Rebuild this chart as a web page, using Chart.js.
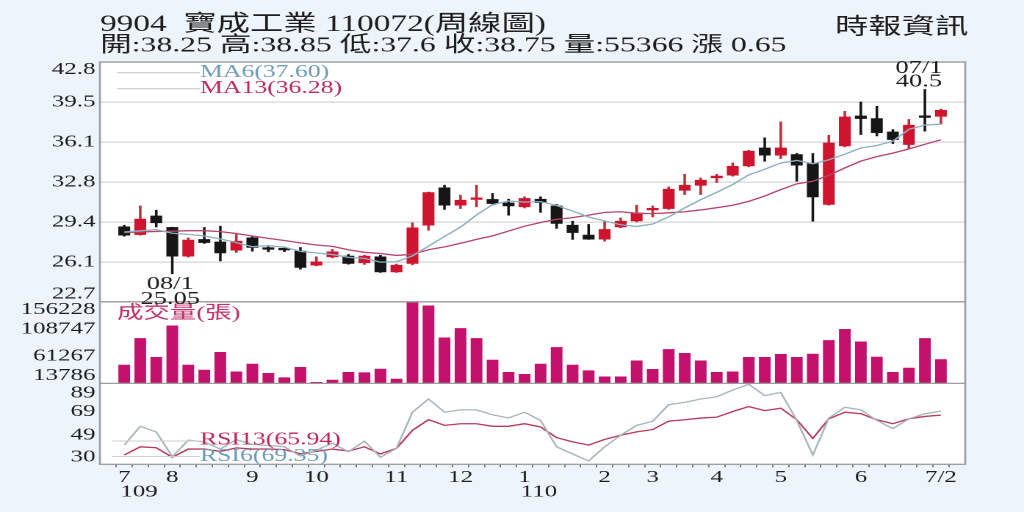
<!DOCTYPE html>
<html><head><meta charset="utf-8">
<script src="https://cdn.jsdelivr.net/npm/chart.js@4.4.0/dist/chart.umd.min.js"></script>
<style>
html,body{margin:0;padding:0;background:#eef4fb;overflow:hidden;}
#wrap{width:1024px;height:512px;position:relative;overflow:hidden;background:#eef4fb;}
#c{position:absolute;left:0;top:0;width:697px;height:512px;transform:scaleX(1.46915);transform-origin:0 0;}
</style></head><body>
<div id="wrap"><canvas id="c" width="697" height="512"></canvas></div>
<script>
// ---- data (weekly, 2020/07 - 2021/07/02) ----
const open  = [28.98,28.34,29.90,28.93,26.53,27.93,27.72,27.03,28.06,27.15,27.10,26.95,25.77,26.47,26.53,25.97,26.47,25.21,25.92,29.12,32.25,30.80,31.28,31.28,30.99,30.66,31.30,30.74,29.12,28.29,27.95,28.98,29.48,30.40,30.52,32.05,32.47,33.10,33.31,34.09,35.60,34.99,35.04,34.29,30.86,35.77,38.28,38.06,36.94,35.88,38.20,38.25];
const high  = [29.12,30.74,30.38,28.95,28.06,28.93,29.04,28.34,28.14,27.31,27.30,27.26,26.47,27.09,26.67,26.61,26.61,25.86,29.32,31.90,32.47,31.64,32.47,31.78,31.30,31.50,31.50,30.86,29.46,29.18,29.40,29.73,30.80,30.74,32.33,33.39,33.08,33.39,34.34,35.40,36.44,37.77,35.13,35.13,36.66,38.67,39.45,39.09,37.14,37.98,40.50,38.85];
const low   = [28.20,28.29,28.98,25.05,26.44,27.59,26.13,26.84,26.95,26.89,26.90,25.44,25.71,26.38,25.86,25.83,25.16,25.16,25.80,28.70,30.44,30.52,30.66,30.80,29.96,30.57,30.19,28.85,27.93,27.93,27.78,28.90,29.40,29.82,30.44,31.69,31.69,32.70,33.23,34.01,34.48,34.71,32.81,29.46,30.80,35.68,36.72,36.60,35.97,35.55,37.00,37.60];
const close = [28.29,29.63,29.32,26.53,27.87,27.67,26.80,27.78,27.26,27.10,27.05,25.58,26.05,26.89,25.92,26.53,25.21,25.77,28.90,31.86,30.80,31.22,31.32,30.94,30.74,31.36,31.02,29.27,28.51,27.95,28.76,29.46,30.15,30.46,32.14,32.47,32.89,33.17,34.06,35.32,34.99,35.60,34.15,31.49,36.02,38.19,38.06,36.88,36.30,37.50,38.15,38.75];
const volume = [45700,92300,59200,114300,45700,37000,67900,34000,47500,31200,23600,41700,15500,19500,33000,32300,38700,21300,156228,149200,93400,109800,92300,54500,33000,29500,47500,76600,45700,35800,25300,25300,53200,38200,73100,66200,53200,33000,34000,59200,59200,64400,59200,65000,88800,108100,86400,59700,33000,40500,92300,55366];
const ma6  = [28.55,28.65,28.75,28.45,28.35,28.22,27.97,27.66,27.32,27.41,27.28,26.93,26.80,26.66,26.43,26.34,26.03,26.06,26.54,27.37,28.18,28.96,29.98,30.84,31.15,31.06,31.10,30.78,30.31,29.81,29.48,29.16,29.02,29.22,29.82,30.57,31.26,31.88,32.53,33.34,33.82,34.34,34.55,34.27,34.60,35.07,35.59,35.80,36.16,37.16,37.51,37.60];
const ma13 = [28.50,28.55,28.60,28.62,28.66,28.66,28.58,28.42,28.22,28.02,27.84,27.64,27.46,27.35,27.06,26.85,26.75,26.59,26.68,27.07,27.30,27.61,27.93,28.23,28.63,29.04,29.35,29.61,29.76,29.97,30.20,30.25,30.12,30.09,30.16,30.25,30.40,30.59,30.79,31.12,31.56,32.11,32.59,32.80,33.30,33.92,34.50,34.87,35.16,35.52,35.90,36.28];
const rsi6  = [40.4,56.4,51.6,30.5,44.6,43.1,37.0,45.0,41.0,40.0,39.0,31.0,36.0,42.0,34.7,43.7,30.0,37.6,68.4,79.7,68.4,70.4,70.4,66.2,63.5,68.4,61.4,38.9,32.8,26.9,38.9,48.8,57.2,60.6,74.9,76.8,79.7,81.6,87.3,92.3,82.5,85.3,61.4,31.9,63.4,72.6,70.4,61.4,54.4,62.8,67.1,69.35];
const rsi13 = [31.9,38.9,38.1,30.0,37.0,37.0,35.0,38.0,37.0,37.0,36.5,33.0,35.0,37.0,35.3,38.9,32.8,37.6,53.0,62.0,57.2,58.6,58.6,56.4,56.4,58.6,55.8,46.8,43.1,40.4,45.2,48.8,51.6,53.6,60.8,62.0,63.4,64.2,69.0,73.2,69.8,71.8,62.0,46.0,62.8,68.4,67.1,62.0,58.6,62.8,64.8,65.94];

const monthTickIndex = [0,3,8,12,17,21,25,30,33,37,41,46,51];
const monthTickText  = ['7','8','9','10','11','12','1','2','3','4','5','6','7/2'];
const yearTickIndex  = [0,25];
const yearTickText   = ['109','110'];
const priceTicks      = [22.7,26.05,29.4,32.75,36.1,39.45,42.8];
const priceTickLabels = ['22.7','26.1','29.4','32.8','36.1','39.5','42.8'];
const volTicks  = [13786,61267,108747,156228];
const rsiTicks  = [30,49,69,89];
const lowMark  = {index:3,  date:'08/1', value:25.05};
const highMark = {index:50, date:'07/1', value:40.5};
const titleText  = '9904  寶成工業 110072(周線圖)';
const quoteText  = '開:38.25 高:38.85 低:37.6 收:38.75 量:55366 漲 0.65';
const sourceText = '時報資訊';
const volTitle   = '成交量(張)';

// ---- rendering ----
const SX = 1024/697;
const px = v => v / SX;
const FONT = "'Liberation Serif','Noto Sans CJK TC',serif";
const UP = '#d0132e', DOWN = '#161616';
const idx = close.map((_, i) => i);
const candleColor = idx.map(i => close[i] >= open[i] ? UP : DOWN);
const wickColor = idx.map(i => close[i] >= open[i] ? '#b8303a' : DOWN);

function edgeLabel(text, pos){ // pos: 'top' shifts down, 'bottom' shifts up
  if (pos === 'top') return ['', text];
  if (pos === 'bottom') return [text, ''];
  return text;
}

const deco = {
  id:'deco',
  beforeDraw(chart){
    const {ctx, chartArea:a} = chart;
    ctx.save();
    ctx.fillStyle = '#eef4fb';
    ctx.fillRect(0,0,chart.width,chart.height);
    ctx.fillStyle = '#ffffff';
    ctx.fillRect(a.left,a.top,a.right-a.left,a.bottom-a.top);
    ctx.restore();
  },
  afterDraw(chart){
    const {ctx, chartArea:a, scales} = chart;
    ctx.save();
    ctx.strokeStyle = '#9c9c9c'; ctx.lineWidth = 1.3;
    ctx.strokeRect(a.left, a.top, a.right-a.left, a.bottom-a.top);
    [scales.yPrice.bottom, scales.yVol.bottom].forEach(y=>{
      ctx.beginPath(); ctx.moveTo(a.left,y); ctx.lineTo(a.right,y); ctx.stroke();
    });
    // header
    ctx.fillStyle = '#1e1e1e'; ctx.textBaseline = 'middle'; ctx.textAlign = 'left';
    ctx.font = `22.7px ${FONT}`;
    ctx.fillText(titleText, px(100), 25);
    ctx.fillText(sourceText, px(835), 28);
    ctx.font = `21.6px ${FONT}`;
    ctx.fillText(quoteText, px(100), 46);
    // MA legend
    ctx.lineWidth = 1; ctx.strokeStyle = '#c4c4c4';
    [72.7, 88.7].forEach(y=>{ctx.beginPath();ctx.moveTo(px(117),y);ctx.lineTo(px(200),y);ctx.stroke();});
    ctx.font = `17.5px ${FONT}`;
    ctx.fillStyle = '#6f9cb6';
    ctx.fillText(`MA6(${ma6[ma6.length-1].toFixed(2)})`, px(200), 72.5);
    ctx.fillStyle = '#c0285c';
    ctx.fillText(`MA13(${ma13[ma13.length-1].toFixed(2)})`, px(200), 88.5);
    // volume title
    ctx.font = `18px ${FONT}`;
    ctx.fillStyle = '#c2306c';
    ctx.fillText(volTitle, px(117), 314);
    // RSI legend
    ctx.strokeStyle = '#d0d0d0';
    [441, 456.5].forEach(y=>{ctx.beginPath();ctx.moveTo(px(112),y);ctx.lineTo(px(200),y);ctx.stroke();});
    ctx.font = `17.5px ${FONT}`;
    ctx.fillStyle = '#c0285c';
    ctx.fillText(`RSI13(${rsi13[rsi13.length-1].toFixed(2)})`, px(200), 440);
    ctx.fillStyle = '#6f9cb6';
    ctx.fillText(`RSI6(${rsi6[rsi6.length-1].toFixed(2)})`, px(200), 456.5);
    // low / high marks
    const xs = scales.x, yp = scales.yPrice;
    ctx.fillStyle = '#1e1e1e'; ctx.textAlign = 'center';
    ctx.font = `18px ${FONT}`;
    const lx = xs.getPixelForValue(lowMark.index) - px(2), ly = yp.getPixelForValue(lowMark.value);
    ctx.fillText(lowMark.date, lx, ly + 10.5);
    ctx.fillText(lowMark.value.toFixed(2), lx, ly + 25.5);
    const hx = xs.getPixelForValue(highMark.index) - px(6), hy = yp.getPixelForValue(highMark.value);
    ctx.fillText(highMark.date, hx, hy - 21);
    ctx.fillText(String(highMark.value), hx, hy - 7.5);
    // year labels under month ticks
    ctx.textAlign = 'left'; ctx.font = `17px ${FONT}`;
    yearTickIndex.forEach((v,k)=>{
      ctx.fillText(yearTickText[k], xs.getPixelForValue(v) - px(4), 492);
    });
    ctx.restore();
  }
};

const tickFont = {family: FONT, size: 17, lineHeight: 0.9};
const rsiFont = {family: FONT, size: 17, lineHeight: 0.6};
new Chart(document.getElementById('c'), {
  type: 'bar',
  data: {
    datasets: [
      {type:'line', label:'MA6',  data: idx.map(i=>({x:i,y:ma6[i]})),  yAxisID:'yPrice', borderColor:'#8eb0c2', borderWidth:1.3, pointRadius:0, tension:0, order:0},
      {type:'line', label:'MA13', data: idx.map(i=>({x:i,y:ma13[i]})), yAxisID:'yPrice', borderColor:'#b8456a', borderWidth:1.3, pointRadius:0, tension:0, order:0},
      {type:'bar', label:'body', data: idx.map(i=>({x:i,y:[open[i],close[i]]})), yAxisID:'yPrice', backgroundColor: candleColor, barThickness:7.4, grouped:false, minBarLength:1.6, order:1},
      {type:'bar', label:'wick', data: idx.map(i=>({x:i,y:[low[i],high[i]]})), yAxisID:'yPrice', backgroundColor: wickColor, barThickness:1.1, grouped:false, order:2},
      {type:'bar', label:'volume', data: idx.map(i=>({x:i,y:volume[i]})), yAxisID:'yVol', backgroundColor:'#c4126c', barThickness:7.3, grouped:false, order:3},
      {type:'line', label:'RSI6',  data: idx.map(i=>({x:i,y:rsi6[i]})),  yAxisID:'yRsi', borderColor:'#a9b5ba', borderWidth:1.3, pointRadius:0, tension:0, order:0},
      {type:'line', label:'RSI13', data: idx.map(i=>({x:i,y:rsi13[i]})), yAxisID:'yRsi', borderColor:'#b83a5c', borderWidth:1.3, pointRadius:0, tension:0, order:0}
    ]
  },
  options: {
    responsive:false, animation:false, devicePixelRatio:2,
    layout:{padding:{left:0,right:40,top:62,bottom:0}},
    plugins:{legend:{display:false}, tooltip:{enabled:false}},
    scales:{
      x:{type:'linear', min:-1, max:52,
        afterBuildTicks: s => { s.ticks = idx.map(v=>({value:v})); },
        afterFit: s => { s.height = 47.7; },
        ticks:{autoSkip:false, maxRotation:0, minRotation:0, padding:0, color:'#1e1e1e', font:{family:FONT,size:17},
          callback: v => { const k = monthTickIndex.indexOf(v); return k>=0 ? monthTickText[k] : ''; }},
        grid:{drawOnChartArea:false, drawTicks:true, tickLength:3, color:'#777'},
        border:{display:false}},
      yRsi:{type:'linear', position:'left', stack:'k', stackWeight:81, min:24, max:93,
        afterBuildTicks: s => { s.ticks = rsiTicks.map(v=>({value:v})); },
        afterFit: s => { s.width = 68; },
        ticks:{autoSkip:false, padding:3, color:'#1e1e1e', font:rsiFont,
          callback: (v,i,t) => edgeLabel(String(v), i===t.length-1 ? 'top' : '')},
        grid:{drawOnChartArea:false, drawTicks:false}, border:{display:false}},
      yVol:{type:'linear', position:'left', stack:'k', stackWeight:81.6, min:volTicks[0], max:volTicks[volTicks.length-1],
        afterBuildTicks: s => { s.ticks = volTicks.map(v=>({value:v})); },
        afterFit: s => { s.width = 68; },
        ticks:{autoSkip:false, padding:3, color:'#1e1e1e', font:tickFont,
          callback: (v,i,t) => edgeLabel(String(v), i===t.length-1 ? 'top' : (i===0 ? 'bottom' : ''))},
        grid:{drawOnChartArea:false, drawTicks:false}, border:{display:false}},
      yPrice:{type:'linear', position:'left', stack:'k', stackWeight:240, min:priceTicks[0], max:priceTicks[priceTicks.length-1],
        afterBuildTicks: s => { s.ticks = priceTicks.map(v=>({value:v})); },
        afterFit: s => { s.width = 68; },
        ticks:{autoSkip:false, padding:3, color:'#1e1e1e', font:tickFont,
          callback: (v,i,t) => edgeLabel(priceTickLabels[i], i===t.length-1 ? 'top' : (i===0 ? 'bottom' : ''))},
        grid:{color:'#d6d6d6', lineWidth:1.2, drawTicks:false}, border:{display:false}}
    }
  },
  plugins:[deco]
});
</script>
</body></html>
